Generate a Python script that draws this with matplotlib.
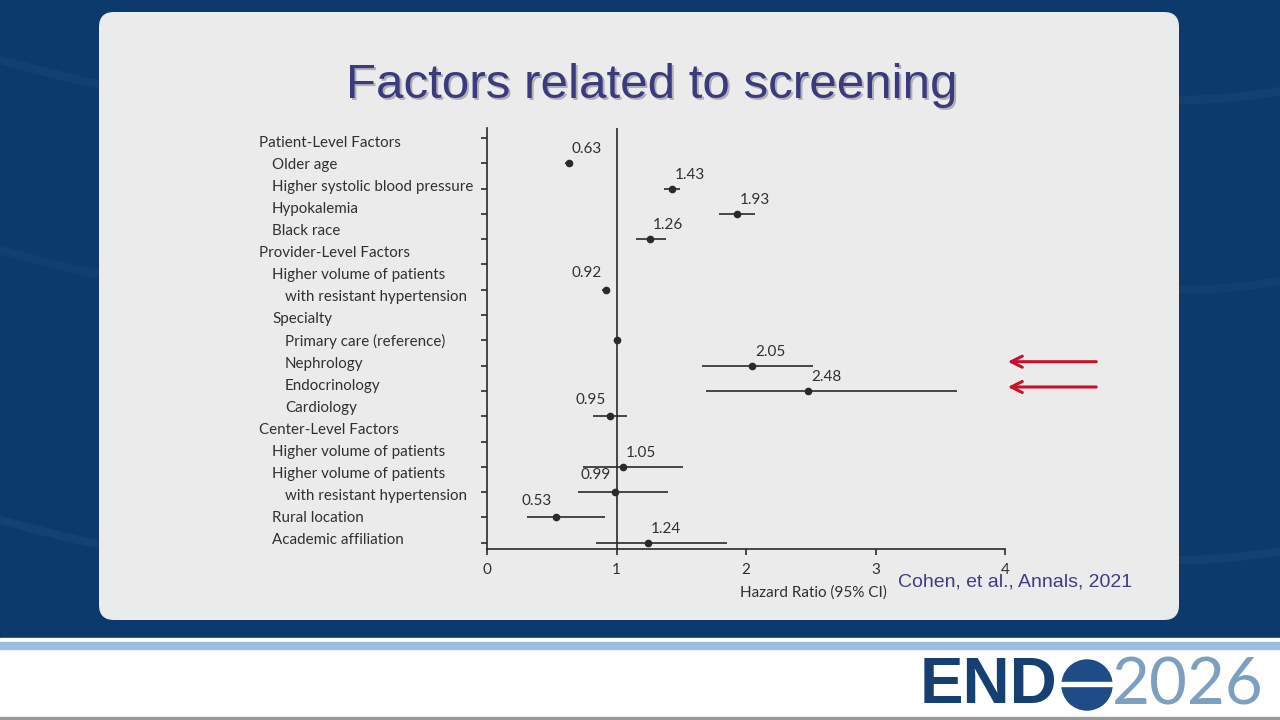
import numpy as np
import matplotlib.pyplot as plt
from matplotlib.patches import FancyBboxPatch, Rectangle, Circle
from matplotlib.transforms import blended_transform_factory

#----------------------------------------------------------------
# Data
label_text = ["Patient-Level Factors", "Older age", "Higher systolic blood pressure",
              "Hypokalemia", "Black race", "Provider-Level Factors",
              "Higher volume of patients", "with resistant hypertension", "Specialty",
              "Primary care (reference)", "Nephrology", "Endocrinology", "Cardiology",
              "Center-Level Factors", "Higher volume of patients",
              "Higher volume of patients", "with resistant hypertension",
              "Rural location", "Academic affiliation"]
label_indent = [0, 1, 1, 1, 1, 0, 1, 2, 1, 2, 2, 2, 2, 0, 1, 1, 2, 1, 1]

# row (tick number, top = 1) where each estimate sits
est_row = [2, 3, 4, 5, 7, 9, 10, 11, 12, 14, 15, 16, 17]
hr = [0.63, 1.43, 1.93, 1.26, 0.92, 1.00, 2.05, 2.48, 0.95, 1.05, 0.99, 0.53, 1.24]
ci_low = [0.60, 1.37, 1.79, 1.15, 0.89, 1.00, 1.66, 1.69, 0.82, 0.74, 0.70, 0.31, 0.84]
ci_high = [0.66, 1.49, 2.07, 1.38, 0.95, 1.00, 2.52, 3.63, 1.08, 1.51, 1.40, 0.91, 1.85]
hr_text = ["0.63", "1.43", "1.93", "1.26", "0.92", "", "2.05", "2.48", "0.95",
           "1.05", "0.99", "0.53", "1.24"]
text_side = ["r", "r", "r", "r", "l", "r", "r", "r", "l", "r", "l", "l", "r"]
arrow_rows = [10, 11]
n_ticks = 17
#----------------------------------------------------------------

fig = plt.figure(figsize=(12.8, 7.2), dpi=100)

# background layer in pixel coordinates
bg = fig.add_axes([0, 0, 1, 1])
bg.set_xlim(0, 1280)
bg.set_ylim(720, 0)
bg.axis("off")
bg.add_patch(Rectangle((0, 0), 1280, 640, color="#0d3a6d", zorder=0))
# faint texture
for yy, a in [(60, 0.03), (250, 0.025), (520, 0.035)]:
    xs = np.linspace(0, 1280, 200)
    bg.plot(xs, yy + 40 * np.sin(xs / 150.0), color="white", alpha=a, lw=6, zorder=0)
bg.add_patch(Rectangle((0, 638), 1280, 82, color="white", zorder=1))
bg.add_patch(Rectangle((0, 642), 1280, 7, color="#9dbde0", zorder=2))
bg.add_patch(Rectangle((0, 717), 1280, 3, color="#9a9a9a", zorder=2))
bg.add_patch(FancyBboxPatch((114, 27), 1050, 578, boxstyle="round,pad=15,rounding_size=15",
                            fc="#ebebeb", ec="none", zorder=1))

# title with shadow
bg.text(654, 88, "Factors related to screening", fontsize=35.5, family="Liberation Sans",
        color="#8a8a9a", ha="center", va="center", alpha=0.6, zorder=3)
bg.text(652, 86, "Factors related to screening", fontsize=35.5, family="Liberation Sans",
        color="#3a3a7c", ha="center", va="center", zorder=4)

# citation
bg.text(898, 582, "Cohen, et al., Annals, 2021", fontsize=14, family="Liberation Sans",
        color="#3d3c8c", ha="left", va="center", zorder=4)

# logo
bg.text(920, 686, "END", fontsize=47, family="Liberation Sans", weight="bold",
        color="#163f72", ha="left", va="center", zorder=4)
bg.add_patch(Circle((1087, 685), 25, color="#1d4c86", zorder=4))
bg.add_patch(Rectangle((1060, 682), 54, 4, color="white", zorder=5))
bg.text(1112, 686, "2026", fontsize=47, family="Lato",
        color="#7d9fc0", ha="left", va="center", zorder=4)

# red arrows
for r in arrow_rows:
    ypix = 138 + (r - 1) * 25.3 - 4
    bg.annotate("", xy=(1005, ypix), xytext=(1099, ypix),
                arrowprops=dict(arrowstyle="->,head_length=0.8,head_width=0.4",
                                color="#c8102e", lw=2.2), zorder=6)

#----------------------------------------------------------------
# Forest plot
ax = fig.add_axes([487 / 1280, 1 - 549 / 720, 518 / 1280, 421 / 720])
ax.patch.set_alpha(0)
ax.set_xlim(0, 4)
ax.set_ylim(1 + 411 / 25.3, 1 - 10 / 25.3)

ink = "#2a2a2a"
txt = "#303030"
ax.axvline(1, color=ink, lw=1.2, zorder=2)
ax.hlines(est_row, ci_low, ci_high, color=ink, lw=1.2, zorder=3)
ax.plot(hr, est_row, "o", color=ink, ms=4.5, zorder=4)
for x, y, t, s in zip(hr, est_row, hr_text, text_side):
    if not t:
        continue
    if s == "r":
        ax.annotate(t, (x, y), xytext=(2, 5), textcoords="offset points",
                    ha="left", va="bottom", fontsize=11, family="Lato", color=txt)
    else:
        ax.annotate(t, (x, y), xytext=(-3, 7), textcoords="offset points",
                    ha="right", va="bottom", fontsize=11, family="Lato", color=txt)

for sp in ["top", "right"]:
    ax.spines[sp].set_visible(False)
ax.spines["left"].set_color(ink)
ax.spines["bottom"].set_color(ink)
ax.spines["left"].set_linewidth(1.2)
ax.spines["bottom"].set_linewidth(1.2)
ax.set_yticks(np.arange(1, n_ticks + 1))
ax.set_yticklabels([])
ax.set_xticks([0, 1, 2, 3, 4])
ax.tick_params(axis="y", length=4, color=ink, width=1.2)
ax.tick_params(axis="x", length=4, color=ink, width=1.2, labelsize=11, labelcolor=txt, pad=6)
for lab in ax.get_xticklabels():
    lab.set_family("Lato")
ax.text((813 - 487) / 518, (549 - 593) / 421, "Hazard Ratio (95% CI)", transform=ax.transAxes,
        ha="center", va="center", fontsize=11, family="Lato", color=txt)

# row labels (their own spacing, as on the slide)
tr = blended_transform_factory(fig.transFigure, ax.transData)
for j, (t, lev) in enumerate(zip(label_text, label_indent)):
    ypos = 1 + (5 + 22.06 * j) / 25.3
    ax.text((259 + 13 * lev) / 1280, ypos, t, transform=tr, ha="left", va="center",
            fontsize=10.9, family="Lato", color=txt, clip_on=False)

fig.savefig("out.png", dpi=100)
